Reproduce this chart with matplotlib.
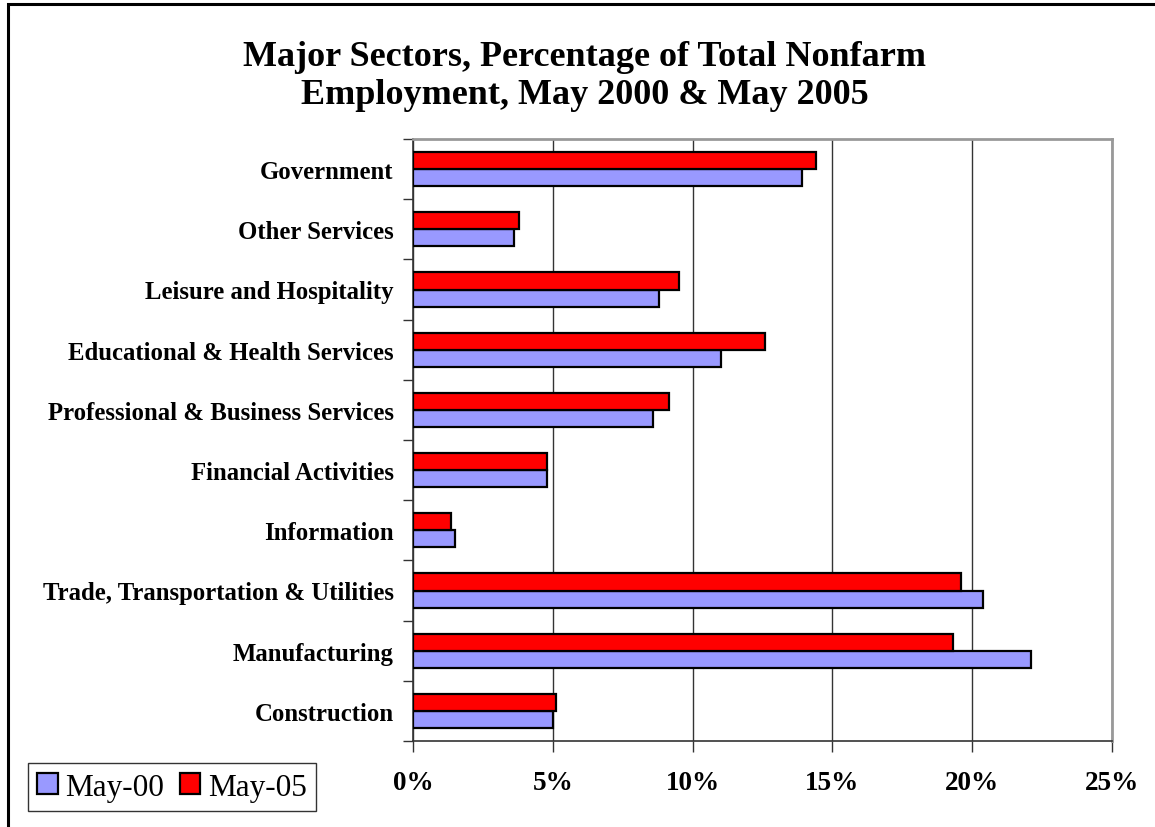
import matplotlib
matplotlib.use("Agg")
import matplotlib.pyplot as plt
from matplotlib.patches import Rectangle
from matplotlib.ticker import FuncFormatter
import numpy as np

SERIF = ["Liberation Serif", "DejaVu Serif"]

# Sectors listed bottom to top
sectors = [
  "Construction",
  "Manufacturing",
  "Trade, Transportation & Utilities",
  "Information",
  "Financial Activities",
  "Professional & Business Services",
  "Educational & Health Services",
  "Leisure and Hospitality",
  "Other Services",
  "Government",
]
# Share of total nonfarm employment, percent
may00 = [5.0, 22.1, 20.4, 1.5, 4.8, 8.6, 11.0, 8.8, 3.6, 13.9]
may05 = [5.1, 19.3, 19.6, 1.35, 4.8, 9.15, 12.6, 9.5, 3.8, 14.4]
series_names = ["May-00", "May-05"]
x_ticks = [0, 5, 10, 15, 20, 25]

plt.rcParams["font.family"] = SERIF

fig = plt.figure(figsize=(11.55, 8.28), dpi=100)
ax = fig.add_axes([413/1155, 1-742/828, (1112-413)/1155, (742-140)/828])

y = np.arange(len(sectors))
h = 0.285
b0 = ax.barh(y - h/2, may00, height=h, color="#9999FF", edgecolor="black", linewidth=1.6, label=series_names[0], zorder=3)
b1 = ax.barh(y + h/2, may05, height=h, color="#FF0000", edgecolor="black", linewidth=1.6, label=series_names[1], zorder=3)

ax.set_xlim(0, 25)
ax.set_ylim(-0.5, len(sectors) - 0.5)
ax.set_xticks(x_ticks)
ax.xaxis.set_major_formatter(FuncFormatter(lambda v, p: "{:d}%".format(int(v))))
ax.grid(axis="x", color="#333333", linewidth=1.0, zorder=0)

# category labels sit between the boundary ticks
ax.set_yticks(np.arange(len(sectors) + 1) - 0.5)
ax.set_yticklabels([])
ax.set_yticks(y, minor=True)
ax.set_yticklabels(sectors, minor=True, fontsize=17.8, fontweight="bold")
ax.tick_params(axis="y", which="minor", length=0, pad=14)
ax.tick_params(axis="y", which="major", length=7, width=1, color="#333333")
ax.tick_params(axis="x", length=8, width=1, color="#333333", pad=13, labelsize=19.5)
for lab in ax.get_xticklabels():
  lab.set_fontweight("bold")

for s in ["top", "right"]:
  ax.spines[s].set_color("#999999")
  ax.spines[s].set_linewidth(2)
for s in ["left", "bottom"]:
  ax.spines[s].set_color("#333333")
  ax.spines[s].set_linewidth(1.2)

fig.text(585/1155, 1-41/828, "Major Sectors, Percentage of Total Nonfarm\nEmployment, May 2000 & May 2005",
         ha="center", va="top", fontsize=26, fontweight="bold", linespacing=1.2)

leg = fig.legend(handles=[b0, b1], labels=series_names, loc="lower left",
                 bbox_to_anchor=(28/1155, 1-812/828), ncol=2, fontsize=22.5,
                 frameon=True, fancybox=False, edgecolor="black", borderpad=0.3,
                 handlelength=0.65, handleheight=0.65, handletextpad=0.25,
                 columnspacing=0.5, borderaxespad=0)
leg.get_frame().set_linewidth(1.0)

# outer chart border
fig.patches.append(Rectangle((8/1155, -0.1), 1.2, 1.1 - 5/828, transform=fig.transFigure,
                             fill=False, edgecolor="black", linewidth=2.2))

fig.savefig("out.png", dpi=100)
